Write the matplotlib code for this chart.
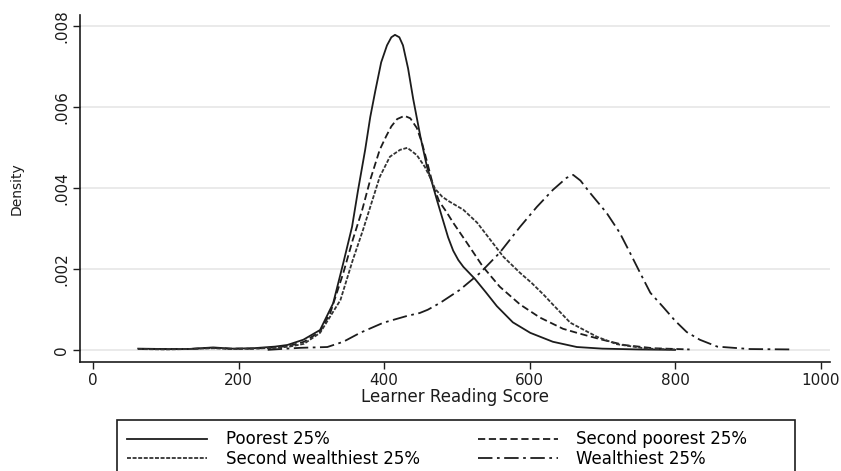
import matplotlib
matplotlib.use("Agg")
import matplotlib.pyplot as plt
from matplotlib.lines import Line2D
from matplotlib.patches import Rectangle

# ---------------------------------------------------------------------------
# Data (score, density)
# ---------------------------------------------------------------------------
poorest_x = [62, 100, 130, 165, 190, 220, 250, 267, 289, 312, 330, 344, 356,
             364, 374, 381, 388, 396, 404, 410, 415, 421, 426, 433, 440, 450,
             459, 466, 473, 481, 488, 495, 502, 509, 517, 525, 540, 555, 577,
             601, 632, 665, 700, 750, 800]
poorest_y = [0.00003, 0.00002, 0.00002, 0.00006, 0.00003, 0.00004, 0.00008,
             0.00012, 0.00025, 0.00049, 0.00115, 0.00215, 0.00304, 0.00392,
             0.00494, 0.00575, 0.0064, 0.0071, 0.00752, 0.00772, 0.00778,
             0.00772, 0.00752, 0.00695, 0.0062, 0.00526, 0.00452, 0.00412,
             0.00368, 0.0032, 0.00278, 0.00245, 0.00222, 0.00205, 0.0019,
             0.00175, 0.00142, 0.00108, 0.00068, 0.00042, 0.0002, 0.00007,
             0.00003, 0.00001, 0.0]

second_poorest_x = [62, 100, 130, 165, 190, 220, 250, 270, 290, 312, 326, 344,
                    357, 370, 381, 394, 403, 410, 418, 428, 436, 445, 452, 460,
                    468, 476, 486, 495, 514, 536, 559, 587, 614, 646, 669, 700,
                    730, 770, 820]
second_poorest_y = [0.00002, 0.00002, 0.00002, 0.00005, 0.00003, 0.00003,
                    0.00006, 0.0001, 0.0002, 0.00045, 0.00091, 0.0019, 0.00272,
                    0.00346, 0.0042, 0.00494, 0.00528, 0.00552, 0.0057,
                    0.00578, 0.00572, 0.00548, 0.00512, 0.00458, 0.00402,
                    0.00366, 0.0034, 0.00314, 0.00264, 0.00205, 0.00156,
                    0.00112, 0.0008, 0.00052, 0.0004, 0.00025, 0.00012,
                    0.00004, 0.00001]

second_wealthiest_x = [62, 100, 130, 165, 190, 220, 250, 270, 290, 312, 340,
                       357, 371, 384, 394, 408, 422, 432, 445, 456, 463, 470,
                       480, 490, 509, 528, 546, 564, 587, 603, 620, 632, 656,
                       693, 720, 761, 800]
second_wealthiest_y = [0.00002, 0.00001, 0.00002, 0.00004, 0.00002, 0.00003,
                       0.00005, 0.00008, 0.00015, 0.00042, 0.00123, 0.00222,
                       0.00296, 0.0037, 0.00427, 0.00477, 0.00494, 0.00499,
                       0.00481, 0.00452, 0.00427, 0.00398, 0.00378, 0.00366,
                       0.00346, 0.00314, 0.00272, 0.0023, 0.0019, 0.00165,
                       0.00135, 0.00112, 0.00067, 0.00032, 0.00014, 0.00003,
                       0.00001]

wealthiest_x = [240, 257, 285, 322, 344, 367, 399, 432, 449, 460, 477, 504,
                532, 559, 587, 610, 632, 651, 660, 670, 683, 706, 724, 738,
                752, 766, 784, 800, 816, 834, 858, 903, 962]
wealthiest_y = [0.0, 0.00002, 0.00005, 0.00007, 0.0002, 0.00042, 0.00067,
                0.00084, 0.00091, 0.00099, 0.00116, 0.00148, 0.0019, 0.0024,
                0.00304, 0.00353, 0.00395, 0.00425, 0.00432, 0.00418, 0.00388,
                0.00338, 0.00289, 0.0024, 0.0019, 0.00141, 0.00105, 0.00072,
                0.00044, 0.00025, 0.00008, 0.00002, 0.00001]

series_labels = ["Poorest 25%", "Second poorest 25%",
                 "Second wealthiest 25%", "Wealthiest 25%"]

x_ticks = [0, 200, 400, 600, 800, 1000]
y_ticks = [0, 0.002, 0.004, 0.006, 0.008]
y_tick_labels = ["0", ".002", ".004", ".006", ".008"]

# ---------------------------------------------------------------------------
# Plot
# ---------------------------------------------------------------------------
plt.rcParams["font.family"] = ["DejaVu Sans"]
INK = "#1c1c1c"

fig = plt.figure(figsize=(8.41, 4.71), dpi=100)
ax = fig.add_axes([80 / 841, 1 - 362 / 471, 750 / 841, 347 / 471])

styles = [
    dict(linestyle="-"),
    dict(linestyle=(0, (4, 2))),
    dict(linestyle=(0, (2.2, 0.9)), color="#333333"),
    dict(linestyle=(0, (8, 2.5, 1.5, 2.5))),
]
series = [(poorest_x, poorest_y), (second_poorest_x, second_poorest_y),
          (second_wealthiest_x, second_wealthiest_y),
          (wealthiest_x, wealthiest_y)]

handles = []
for (xs, ys), st in zip(series, styles):
    kw = dict(color=INK, linewidth=1.3)
    kw.update(st)
    ax.plot(xs, ys, **kw)
    handles.append(Line2D([], [], **kw))

ax.set_xlim(-18, 1013)
ax.set_ylim(-0.0003, 0.00827)
ax.set_xticks(x_ticks)
ax.set_yticks(y_ticks)
ax.set_yticklabels(y_tick_labels, rotation=90, va="center")
ax.tick_params(axis="both", direction="out", length=5, width=1, colors=INK,
               labelsize=11, pad=3)
ax.grid(True, axis="y", color="#e6e6e6", linewidth=1.2)
ax.set_axisbelow(True)
for side in ("top", "right"):
    ax.spines[side].set_visible(False)
for side in ("left", "bottom"):
    ax.spines[side].set_linewidth(1.2)
    ax.spines[side].set_color(INK)

ax.set_xlabel("Learner Reading Score", fontsize=12, labelpad=0, color=INK)
ax.set_ylabel("Density", fontsize=10, labelpad=22, color=INK)

# Legend fills row-wise in the reference: reorder for matplotlib's columns
order = [0, 2, 1, 3]
fig.legend([handles[i] for i in order], [series_labels[i] for i in order],
           loc="upper left", ncol=2,
           bbox_to_anchor=(114 / 841, 1 - 417 / 471), frameon=False,
           fontsize=12, handlelength=4.8, handletextpad=1.1,
           columnspacing=3.5, labelspacing=0.1, borderpad=0.3)
fig.patches.append(Rectangle((117 / 841, -0.05), 678 / 841,
                             0.05 + 1 - 420 / 471, transform=fig.transFigure,
                             fill=False, edgecolor=INK, linewidth=1.2))

fig.savefig("out.png", dpi=100)
